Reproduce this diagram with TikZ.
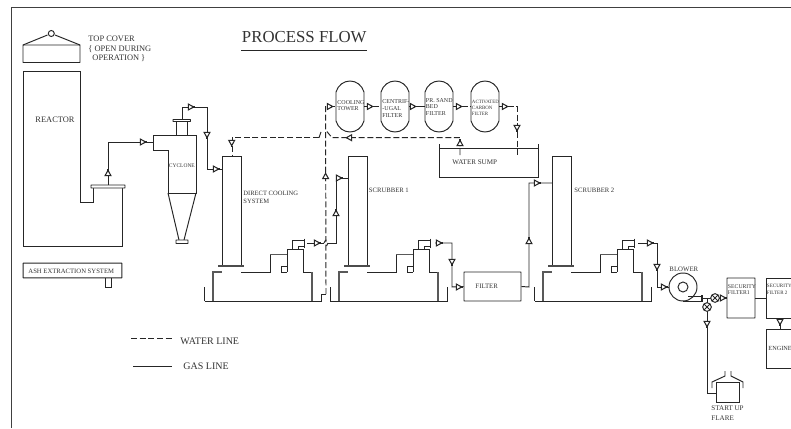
\documentclass[tikz,border=0pt]{standalone}
\usepackage{fontspec}
\setmainfont{Liberation Serif}
\newcommand\fsz[1]{\fontsize{#1}{#1}\selectfont}
\tikzset{
  x=0.75pt,y=-0.75pt,
  every path/.style={line width=0.72pt,color=black!85},
  gas/.style={draw,line join=miter},
  water/.style={draw,dash pattern=on 4.5pt off 2pt,line width=0.72pt},
  thickflange/.style={draw,line width=1.5pt,black!70},
  lbl/.style={anchor=west,inner sep=0pt,text=black!80,align=left},
  box/.style={draw,rectangle,inner sep=0pt,rounded corners=0.3pt},
  valve/.style={draw,circle,fill=white,minimum size=6.5pt,inner sep=0pt,path picture={
     \draw (path picture bounding box.north west)--(path picture bounding box.south east)
           (path picture bounding box.north east)--(path picture bounding box.south west);}},
  flowmark/.pic={\draw[fill=white,line width=0.8pt] (-2pt,-2.2pt)--(2pt,0pt)--(-2pt,2.2pt)--cycle;
                 \draw[line width=1pt] (1.2pt,0pt)--(2.8pt,0pt);}
}
% washer column body, shifted for each stage
\newcommand\washer[1]{%
 \begin{scope}[shift={(#1,0)}]
  \draw[gas] (222,266)--(222,156)--(241,156)--(241,266);
  \draw[thickflange] (218,266)--(244,266);
  \draw[gas] (204.5,287)--(204.5,301);
  \draw[gas,black!65,line width=0.9pt] (213,301)--(213,272)--(222,272);
  \draw[gas] (241,272)--(270,272)--(270,254.5);
  \draw[gas,black!65,line width=0.9pt] (270,254.5)--(287,254.5);
  \draw[gas] (287,272)--(287,249)--(303,249)--(303,272)--(312,272);
  \draw[gas,black!65,line width=0.9pt] (312,272)--(312,301);
  \draw[gas] (287,266)--(281,266)--(281,272)--(287,272);
  \draw[gas] (292,249)--(292,240)--(304,240);
  \draw[gas] (298,249)--(298,246)--(304,246);
  \draw[draw,line width=1.3pt] (304.5,238.5)--(304.5,247.5);
 \end{scope}}
\begin{document}
\begin{tikzpicture}
\useasboundingbox (0,0) rectangle (791,428);
\fill[white] (0,0) rectangle (791,428);
% frame
\draw[gas,black!75] (11,428)--(11,7)--(791,7);
% title
\node[lbl,font=\fsz{12.6}] (title) at (241.5,37) {PROCESS FLOW};
\draw[gas] (241,50)--(367,50);
% top cover
\draw[box] (23,45) rectangle (80,62.5);
\draw[gas] (23,45)--(47.5,35) (55,35)--(80,45);
\draw[gas] (51.3,33.5) circle (3);
\node[lbl,font=\fsz{6.3}] (tc1) at (88,39) {TOP COVER};
\node[lbl,font=\fsz{6.3}] (tc2) at (88,49) {\{ OPEN DURING};
\node[lbl,font=\fsz{6.3}] (tc3) at (92,58) {OPERATION \}};
% reactor
\draw[gas] (122,188)--(122,246)--(23,246)--(23,71)--(80,71)--(80,202)--(93,202)--(93,188);
\draw[box,fill=white] (91,185) rectangle (125,188);
\node[lbl,font=\fsz{6.3}] (reactor) at (35,120) {REACTOR};
% ash
\node[box,minimum width=74.2pt,minimum height=11.2pt] (ash) at (72.5,270.5) {};
\node[lbl,font=\fsz{5}] (ashl) at (28,271.5) {ASH EXTRACTION SYSTEM};
\draw[gas] (105,278)--(105,287)--(111,287)--(111,278);
% cyclone
\draw[gas] (168,150)--(153,150)--(153,135)--(196,135)--(196,193)--(168,193)--cycle;
\draw[gas] (168,193)--(179,240) (196,193)--(184,240);
\draw[box,fill=white] (176,240) rectangle (188,243.5);
\draw[gas] (176.5,135)--(176.5,122) (187,135)--(187,122);
\draw[box,fill=white] (173,119.5) rectangle (190.5,121.5);
\node[lbl,font=\fsz{4.1}] (cycl) at (168.5,166) {CYCLONE};
% washers
\washer{0}\washer{126}\washer{330}
\node[lbl,font=\fsz{4.9}] (dc) at (243,197.5) {DIRECT COOLING\\[1.4pt]SYSTEM};
\node[lbl,font=\fsz{5}] (s1) at (368.5,190.5) {SCRUBBER 1};
\node[lbl,font=\fsz{5}] (s2) at (574,190.5) {SCRUBBER 2};
% tanks
\coordinate (t1r) at (326,294);
\draw[gas] (204.5,301)--(321,301)--(321,294)--(t1r);
\draw[gas] (330.5,287)--(330.5,301)--(447,301)--(447,287);
\draw[gas] (535,301)--(651,301)--(651,287);
% filter
\node[box,minimum width=42.75pt,minimum height=21.75pt] (filter) at (492.5,286.5) {};
\node[lbl,font=\fsz{5.1}] (filterl) at (475,286.5) {FILTER};
% sump
\draw[gas] (439,144)--(439,177)--(538,177)--(538,144) (439,148)--(538,148);
\node[lbl,font=\fsz{5.3}] (sumpl) at (452,162) {WATER SUMP};
% water treatment capsules
\foreach \n/\xa in {ct/336,cf/381,sb/425,ac/471}{
 \draw[gas] (\xa,92) .. controls (\xa+2,85) and (\xa+8,81) .. (\xa+14,81)
   .. controls (\xa+20,81) and (\xa+26,85) .. (\xa+28,92) -- (\xa+28,121)
   .. controls (\xa+26,128) and (\xa+20,132) .. (\xa+14,132)
   .. controls (\xa+8,132) and (\xa+2,128) .. (\xa,121) -- cycle;
 \coordinate (\n w) at (\xa,106.5); \coordinate (\n e) at (\xa+28,106.5);
}
\node[lbl,font=\fsz{4.5}] (ctl) at (337,105.5) {COOLING\\[0.5pt]TOWER};
\node[lbl,font=\fsz{4.5}] (cfl) at (382,108.5) {CENTRIF-\\[0.5pt]-UGAL\\[0.5pt]FILTER};
\node[lbl,font=\fsz{4.5}] (sbl) at (425.5,107) {PR. SAND\\[0.5pt]BED\\[0.5pt]FILTER};
\node[lbl,font=\fsz{3.7}] (acl) at (471.5,108) {ACTIVATED\\[1pt]CARBON\\[1pt]FILTER};
% gas lines
\draw[gas] (108,185)--(108,142)--(153,142);
\draw[gas] (182,119.5)--(182,107)--(207,107)--(207,169)--(222,169);
\draw[gas] (307,243)--(324,243) (328,243)--(336,243)--(336,178)--(348,178);
\draw[gas] (324,243) .. controls (325,240) and (326,240) .. (326.5,240);
\draw[gas] (326.5,246) .. controls (328,245) and (328,244) .. (328,243);
\draw[gas] (435,243)--(452,243)--(452,287)--(filter.west);
\draw[gas] (filter.east)--(529,287)--(529,183)--(552,183);
\draw[gas] (638,243)--(657,243)--(657,287)--(669,287);
% blower
\node[draw,circle,minimum size=21pt,inner sep=0pt,fill=white] (blower) at (683,287) {};
\node[draw,circle,minimum size=7.5pt,inner sep=0pt] (impeller) at (683,287) {};
\draw[gas] (683,301)--(702,301) (688,296)--(702,296);
\draw[line width=1.2pt] (702,295)--(702,302);
\node[lbl,font=\fsz{5.1}] (blowl) at (669,269.5) {BLOWER};
% security filters and engine
\node[box,minimum width=21pt,minimum height=30pt] (sec1) at (741,298) {};
\draw[gas] (791,278)--(766,278)--(766,318)--(791,318);
\coordinate (sec2w) at (766,298);
\coordinate (sec2s) at (780,318);
\coordinate (engn) at (780,329);
\draw[gas] (791,329)--(766,329)--(766,368)--(791,368);
\draw[gas] (sec1.east)--(sec2w);
\draw[gas] (sec2s)--(engn);
\node[lbl,font=\fsz{4.3}] (sec1l) at (727.5,289.5) {SECURITY\\[0.5pt]FILTER1};
\node[lbl,font=\fsz{3.8}] (sec2l) at (766.5,289.5) {SECURITY\\[1pt]FILTER 2};
\node[lbl,font=\fsz{4.7}] (engl) at (768,348) {ENGINE};
% valves and flare
\draw[gas] (703,298)--(sec1.west);
\draw[gas] (707,298)--(707,393)--(716,393);
\node[valve] (v1) at (715,298) {};
\node[valve] (v2) at (707,307) {};
\draw[gas] (716,382) rectangle (739,402);
\draw[gas] (712,388)--(712,382)--(725,376)--(725,371) (743,388)--(743,382)--(731,376)--(731,371);
\node[lbl,font=\fsz{5.3}] (flare) at (711,413) {START UP\\[2pt]FLARE};
% water lines
\draw[water] (t1r)--(325.6,130)--(325.6,106.5)--(ctw);
\draw[water] (cte)--(cfw);
\draw[gas] (cfe)--(sbw);
\draw[water] (sbe)--(acw);
\draw[water] (ace)--(517,106.5)--(517,155);
\draw[water] (460,155)--(460,137.7)--(332,137.7)--(325.6,130);
\draw[water] (319,137.7)--(232,137.7)--(232,156);
\draw[gas] (319,137.7)--(321,132);
% legend
\coordinate (wa) at (131,338); \coordinate (wb) at (172,338);
\coordinate (ga) at (133,366); \coordinate (gb) at (172,366);
\draw[water] (wa)--(wb);
\draw[gas] (ga)--(gb);
\node[lbl,font=\fsz{7.5}] (wl) at (180,341.5) {WATER LINE};
\node[lbl,font=\fsz{7.5}] (gl) at (183,366) {GAS LINE};
% flow marks
\foreach \px/\py/\r in {
 108/173/90,143/142/0,191/107/0,207/135/270,216/169/0,231.7/143/270,
 330/106.5/0,370/106.5/0,413/106.5/0,459/106.5/0,505/106.5/0,517/128/270,
 460/143/90,349/137.7/180,325.6/176/90,
 336/213/90,339/178/0,317/243/0,
 439/243/0,452/262/270,459/287/0,
 529/241/90,537/183/0,650/243/0,657/267/270,664/287/0,
 723/298/0,707/324/270,780/322/270}
 {\pic[rotate=\r] at (\px,\py) {flowmark};}
\end{tikzpicture}
\end{document}
